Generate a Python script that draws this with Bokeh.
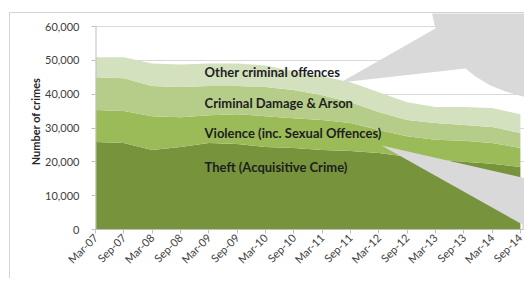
import numpy as np
from bokeh.plotting import figure
from bokeh.models import (ColumnDataSource, FixedTicker, NumeralTickFormatter, Label,
                          PolyAnnotation, Range1d)
from bokeh.core.properties import value
from bokeh.embed import file_html
from bokeh.resources import INLINE

periods = ["Mar-07", "Sep-07", "Mar-08", "Sep-08", "Mar-09", "Sep-09", "Mar-10", "Sep-10",
           "Mar-11", "Sep-11", "Mar-12", "Sep-12", "Mar-13", "Sep-13", "Mar-14", "Sep-14"]
theft = [25900, 25600, 23500, 24400, 25600, 25300, 24400, 24100,
         23500, 23200, 22600, 21500, 20600, 20000, 19400, 18500]
violence = [9400, 9400, 10000, 8800, 8200, 8800, 9100, 8800,
            8900, 8300, 6800, 6100, 5900, 6200, 6200, 5600]
damage = [9700, 9700, 8900, 8900, 8600, 8300, 8600, 8300,
          7300, 6100, 5300, 4800, 5000, 4700, 4700, 4400]
other = [5900, 6200, 6700, 6700, 6700, 6700, 6400, 5600,
         5600, 5900, 5900, 5200, 4700, 5300, 5600, 5600]
series_names = ["Theft (Acquisitive Crime)", "Violence (inc. Sexual Offences)",
                "Criminal Damage & Arson", "Other criminal offences"]
colors = ["#77933c", "#9bbb59", "#b6cd8a", "#d4e1bf"]
y_ticks = [0, 10000, 20000, 30000, 40000, 50000, 60000]
y_title = "Number of crimes"

FONT = "Lato"
idx = list(range(len(periods)))
src = ColumnDataSource(dict(x=idx, theft=theft, violence=violence, damage=damage, other=other))

p = figure(width=515, height=266, output_backend="svg", toolbar_location=None,
           x_range=Range1d(0, 15.18), y_range=Range1d(0, 63850),
           min_border_left=85, min_border_right=0, min_border_top=0, min_border_bottom=50)
p.styles = {"margin-left": "9px", "margin-top": "12px",
            "border-left": "1px solid #d4d4d4", "border-top": "1px solid #d4d4d4"}
p.outline_line_color = None
p.background_fill_color = "white"
p.border_fill_color = "white"

p.varea_stack(["theft", "violence", "damage", "other"], x="x", source=src, color=colors)
# vertical axis line only up to the top tick
p.segment(x0=[0], y0=[0], x1=[0], y1=[y_ticks[-1]], line_color="#bfbfbf", line_width=2)

# axes
p.xaxis.ticker = FixedTicker(ticks=idx)
p.xaxis.major_label_overrides = {i: s for i, s in enumerate(periods)}
p.xaxis.major_label_orientation = np.pi / 4
p.yaxis.ticker = FixedTicker(ticks=y_ticks)
p.yaxis.formatter = NumeralTickFormatter(format="0,0")
for ax in (p.xaxis[0], p.yaxis[0]):
    ax.axis_line_color = "#bfbfbf"
    ax.major_tick_line_color = "#bfbfbf"
    ax.major_tick_out = 4
    ax.major_tick_in = 0
    ax.minor_tick_line_color = None
    ax.major_label_text_font = FONT
    ax.major_label_text_font_size = "11px"
    ax.major_label_text_color = "#404040"
p.yaxis.axis_line_color = None
p.yaxis.major_label_standoff = 12
p.xaxis.major_label_standoff = 2
p.yaxis.axis_label = y_title
p.yaxis.axis_label_text_font = FONT
p.yaxis.axis_label_text_font_size = "11px"
p.yaxis.axis_label_text_font_style = "bold"
p.yaxis.axis_label_text_color = "#262626"
p.yaxis.axis_label_standoff = 0
p.xgrid.grid_line_color = None
p.ygrid.grid_line_color = "#d9d9d9"
p.ygrid.ticker = FixedTicker(ticks=y_ticks)

# series labels
label_x = 3.85
label_y = [18500, 28500, 37400, 46500]
for name, ly in zip(series_names, label_y):
    p.add_layout(Label(x=label_x, y=ly, text=name, text_font=FONT, text_font_size="13px",
                       text_font_style="bold", text_color="#1e1e1e", text_baseline="middle"))

# callout shapes (page coords minus the canvas offset, canvas units)
ox, oy = 11, 14
c1x = [430, 431, 433, 435, 340, 465, 475, 490, 505, 526, 526]
c1y = [0, 10, 20, 28, 82, 68, 76, 85, 91, 97, 0]
c2x = [381, 526, 526, 524, 521, 521, 522]
c2y = [145, 178, 281, 281, 262, 240, 224]
for xs, ys in ((c1x, c1y), (c2x, c2y)):
    p.add_layout(PolyAnnotation(xs=[v - ox for v in xs], ys=[v - oy for v in ys],
                                xs_units="canvas", ys_units="canvas",
                                fill_color="#d9d9d9", fill_alpha=1.0, line_color=None))

open("out.html", "w").write(file_html(p, INLINE))
